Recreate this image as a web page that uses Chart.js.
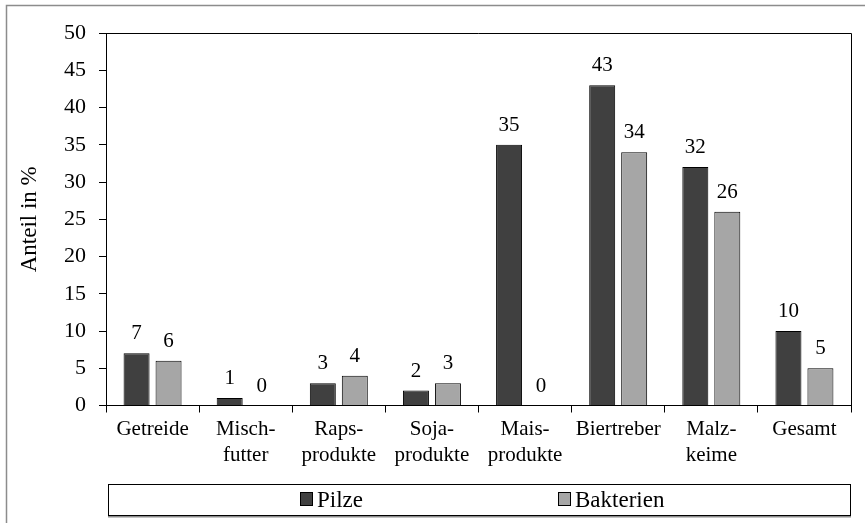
<!DOCTYPE html>
<html>
<head>
<meta charset="utf-8">
<script src="https://cdn.jsdelivr.net/npm/chart.js@4"></script>
<style>
	html, body { margin: 0; padding: 0; background: #fff; }
	#wrap { width: 865px; height: 523px; }
</style>
</head>
<body>
<div id="wrap"><canvas id="myChart" width="865" height="523"></canvas></div>
<script>
	const categories = [['Getreide'], ['Misch-', 'futter'], ['Raps-', 'produkte'], ['Soja-', 'produkte'], ['Mais-', 'produkte'], ['Biertreber'], ['Malz-', 'keime'], ['Gesamt']];
	const pilze = [7, 1, 3, 2, 35, 43, 32, 10];
	const bakterien = [6, 0, 4, 3, 0, 34, 26, 5];
	const yTicks = [0, 5, 10, 15, 20, 25, 30, 35, 40, 45, 50];

	const serif = "'Liberation Serif', 'Times New Roman', serif";

	// value labels above each bar
	const valueLabels = {
		id: 'valueLabels',
		afterDatasetsDraw(chart) {
			const ctx = chart.ctx;
			ctx.save();
			ctx.font = '21px ' + serif;
			ctx.fillStyle = '#000';
			ctx.textAlign = 'center';
			ctx.textBaseline = 'alphabetic';
			chart.data.datasets.forEach((ds, i) => {
				chart.getDatasetMeta(i).data.forEach((bar, j) => {
					ctx.fillText(String(ds.data[j]), bar.x, bar.y - 14);
				});
			});
			ctx.restore();
		}
	};

	// frame around plot, outer border and boxed legend
	const frame = {
		id: 'frame',
		afterDraw(chart) {
			const ctx = chart.ctx;
			const a = chart.chartArea;
			ctx.save();
			ctx.strokeStyle = '#000';
			ctx.lineWidth = 1;
			ctx.beginPath();
			ctx.moveTo(a.left, a.top + 0.5);
			ctx.lineTo(a.right + 0.5, a.top + 0.5);
			ctx.lineTo(a.right + 0.5, a.bottom);
			ctx.stroke();

			ctx.strokeStyle = '#8c8c8c';
			ctx.lineWidth = 1.5;
			ctx.beginPath();
			ctx.moveTo(6.5, 523);
			ctx.lineTo(6.5, 5.5);
			ctx.lineTo(865, 5.5);
			ctx.stroke();

			// legend
			ctx.strokeStyle = '#000';
			ctx.lineWidth = 1;
			ctx.strokeRect(108.5, 484.5, 742, 31);
			ctx.strokeStyle = '#8c8c8c';
			ctx.lineWidth = 1.5;
			ctx.beginPath();
			ctx.moveTo(108, 516.8);
			ctx.lineTo(851, 516.8);
			ctx.stroke();

			const xs = [300, 558];
			ctx.font = '23px ' + serif;
			ctx.textBaseline = 'alphabetic';
			ctx.textAlign = 'left';
			chart.data.datasets.forEach((ds, i) => {
				ctx.fillStyle = ds.backgroundColor;
				ctx.fillRect(xs[i], 492, 12, 13);
				ctx.strokeStyle = '#000';
				ctx.lineWidth = 1;
				ctx.strokeRect(xs[i] + 0.5, 492.5, 12, 13);
				ctx.fillStyle = '#000';
				ctx.fillText(ds.label, xs[i] + 17, 507);
			});
			ctx.restore();
		}
	};

	new Chart(document.getElementById('myChart').getContext('2d'), {
		type: 'bar',
		data: {
			labels: categories,
			datasets: [{
				label: 'Pilze',
				data: pilze,
				backgroundColor: '#404040',
				borderColor: '#000',
				borderWidth: 1
			}, {
				label: 'Bakterien',
				data: bakterien,
				backgroundColor: '#a6a6a6',
				borderColor: '#000',
				borderWidth: 1
			}]
		},
		options: {
			responsive: false,
			animation: false,
			devicePixelRatio: 1,
			categoryPercentage: 0.687,
			barPercentage: 0.8125,
			layout: {
				padding: { left: 6, top: 33, right: 14, bottom: 50 }
			},
			plugins: {
				legend: { display: false },
				tooltip: { enabled: false }
			},
			scales: {
				x: {
					grid: {
						display: true,
						drawOnChartArea: false,
						drawTicks: true,
						tickLength: 7,
						color: '#000',
						offset: true
					},
					border: { display: true, color: '#000', width: 1 },
					ticks: {
						color: '#000',
						padding: 4,
						maxRotation: 0,
						autoSkip: false,
						font: { family: serif, size: 21, lineHeight: 1.25 }
					}
				},
				y: {
					min: 0,
					max: 50,
					afterBuildTicks(scale) {
						scale.ticks = yTicks.map(v => ({ value: v }));
					},
					afterFit(scale) {
						scale.width = 100;
					},
					grid: {
						display: true,
						drawOnChartArea: false,
						drawTicks: true,
						tickLength: 7,
						color: '#000'
					},
					border: { display: true, color: '#000', width: 1 },
					ticks: {
						color: '#000',
						padding: 13,
						font: { family: serif, size: 22 }
					},
					title: {
						display: true,
						text: 'Anteil in %',
						color: '#000',
						padding: { top: 10, bottom: 0 },
						font: { family: serif, size: 23 }
					}
				}
			}
		},
		plugins: [valueLabels, frame]
	});
</script>
</body>
</html>
